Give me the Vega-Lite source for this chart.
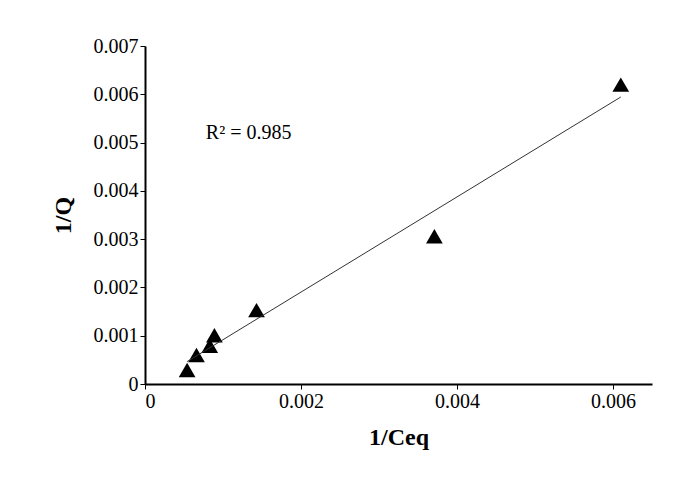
{
  "$schema": "https://vega.github.io/schema/vega-lite/v6.json",
  "autosize": "none",
  "width": 507,
  "height": 338,
  "padding": {"left": 145, "top": 46, "right": 36, "bottom": 94},
  "background": "white",
  "config": {
    "font": "Liberation Serif",
    "view": {"stroke": null}
  },
  "data": {
    "values": [
      {"ceq": 0.00054, "q": 0.00029},
      {"ceq": 0.00066, "q": 0.0006},
      {"ceq": 0.00083, "q": 0.00079},
      {"ceq": 0.00089, "q": 0.00101},
      {"ceq": 0.00143, "q": 0.00153},
      {"ceq": 0.00371, "q": 0.00306},
      {"ceq": 0.0061, "q": 0.0062}
    ]
  },
  "layer": [
    {
      "mark": {"type": "point", "shape": "triangle-up", "filled": true, "color": "black", "opacity": 1, "size": 280},
      "encoding": {
        "x": {"field": "ceq", "type": "quantitative", "title": "1/Ceq", "scale": {"domain": [0, 0.0065], "nice": false}, "axis": {"values": [0, 0.002, 0.004, 0.006], "format": "~g", "titlePadding": 14, "grid": false, "domainColor": "black", "domainWidth": 2, "tickColor": "black", "labelColor": "black", "labelFont": "Liberation Serif", "labelFontSize": 20, "titleFont": "Liberation Serif", "titleFontSize": 24, "titleFontWeight": "bold", "titleColor": "black"}},
        "y": {"field": "q", "type": "quantitative", "title": "1/Q", "scale": {"domain": [0, 0.007], "nice": false}, "axis": {"values": [0, 0.001, 0.002, 0.003, 0.004, 0.005, 0.006, 0.007], "format": "~g", "titlePadding": 18, "grid": false, "domainColor": "black", "domainWidth": 2, "tickColor": "black", "labelColor": "black", "labelFont": "Liberation Serif", "labelFontSize": 20, "titleFont": "Liberation Serif", "titleFontSize": 24, "titleFontWeight": "bold", "titleColor": "black"}}
      }
    },
    {
      "transform": [{"regression": "q", "on": "ceq", "extent": [0.00054, 0.0061]}],
      "mark": {"type": "line", "color": "#333", "strokeWidth": 1},
      "encoding": {
        "x": {"field": "ceq", "type": "quantitative"},
        "y": {"field": "q", "type": "quantitative"}
      }
    },
    {
      "data": {"values": [{"t": "R² = 0.985"}]},
      "mark": {"type": "text", "align": "left", "fontSize": 20, "font": "Liberation Serif", "color": "black"},
      "encoding": {
        "text": {"field": "t"},
        "x": {"datum": 0.00078},
        "y": {"datum": 0.0052}
      }
    }
  ]
}
